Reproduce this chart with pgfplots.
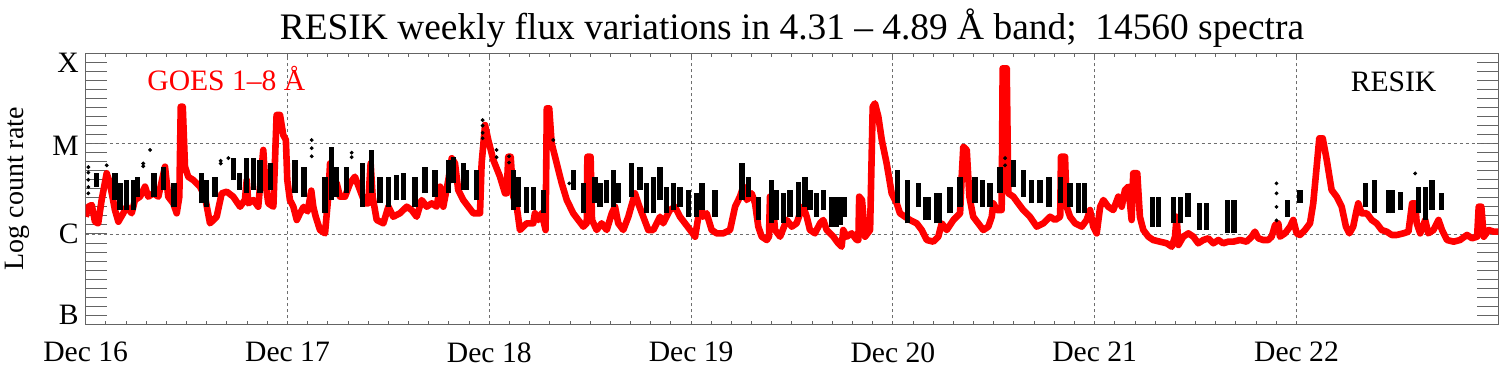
\documentclass[border=0pt]{standalone}
\usepackage{fontspec}
\setmainfont{Liberation Serif}
\usepackage{pgfplots}
\usepackage{pgfplotstable}
\pgfplotsset{compat=1.18}
\definecolor{tickgray}{RGB}{100,100,100}
\definecolor{gridgray}{RGB}{110,110,110}

\pgfplotstableread{
x y
0.000 1.191
0.013 1.302
0.030 1.321
0.046 1.136
0.062 1.118
0.079 1.376
0.104 1.672
0.120 1.561
0.145 1.265
0.162 1.136
0.186 1.229
0.203 1.302
0.228 1.229
0.244 1.376
0.269 1.413
0.294 1.524
0.310 1.413
0.335 1.450
0.360 1.413
0.393 1.745
0.409 1.413
0.434 1.339
0.451 1.229
0.464 1.413
0.471 2.409
0.481 2.409
0.492 1.745
0.508 1.634
0.533 1.597
0.566 1.524
0.591 1.413
0.616 1.118
0.649 1.191
0.674 1.450
0.699 1.468
0.731 1.413
0.765 1.302
0.789 1.376
0.798 1.597
0.806 1.339
0.831 1.376
0.855 1.302
0.880 1.930
0.889 1.597
0.905 1.339
0.930 1.302
0.946 2.317
0.963 2.317
0.979 2.096
0.992 2.040
0.999 1.597
1.012 1.376
1.029 1.302
1.046 1.155
1.062 1.229
1.080 1.300
1.100 1.250
1.118 1.480
1.128 1.300
1.140 1.191
1.161 1.044
1.186 1.007
1.202 1.413
1.211 1.782
1.227 1.487
1.244 1.561
1.260 1.413
1.285 1.413
1.310 1.561
1.334 1.634
1.359 1.487
1.384 1.339
1.400 1.339
1.412 1.782
1.422 1.413
1.442 1.155
1.475 1.118
1.500 1.302
1.524 1.191
1.557 1.229
1.591 1.302
1.615 1.265
1.640 1.191
1.665 1.376
1.690 1.302
1.715 1.339
1.739 1.302
1.756 1.524
1.772 1.302
1.797 1.597
1.814 1.838
1.830 1.782
1.846 1.487
1.871 1.376
1.896 1.302
1.921 1.229
1.954 1.229
1.962 1.782
1.979 2.206
1.995 2.040
2.020 1.819
2.053 1.634
2.078 1.450
2.086 1.450
2.094 1.855
2.106 1.855
2.119 1.413
2.136 1.302
2.152 1.044
2.185 1.118
2.218 1.118
2.226 1.229
2.243 1.155
2.260 1.229
2.279 1.044
2.285 2.391
2.297 2.391
2.309 2.004
2.334 1.782
2.359 1.561
2.384 1.376
2.416 1.229
2.441 1.155
2.466 1.081
2.483 1.118
2.486 1.855
2.502 1.855
2.509 1.155
2.532 1.044
2.557 1.118
2.582 1.044
2.607 1.229
2.623 1.302
2.639 1.118
2.664 1.044
2.689 1.191
2.722 1.450
2.738 1.339
2.763 1.191
2.788 1.044
2.813 1.044
2.846 1.191
2.862 1.118
2.895 1.265
2.920 1.302
2.945 1.191
2.970 1.118
2.995 1.044
3.020 0.970
3.036 1.191
3.044 1.350
3.060 1.191
3.077 1.229
3.102 1.044
3.127 1.007
3.160 1.007
3.193 1.044
3.218 1.302
3.242 1.413
3.259 1.524
3.276 1.376
3.300 1.450
3.317 1.339
3.333 1.081
3.350 0.970
3.375 0.933
3.386 0.970
3.391 1.413
3.404 1.376
3.416 1.044
3.441 0.970
3.474 1.155
3.499 1.081
3.523 1.118
3.540 1.229
3.556 1.302
3.573 1.191
3.589 1.044
3.614 1.007
3.639 1.118
3.655 1.155
3.672 1.044
3.705 0.970
3.729 0.897
3.746 0.859
3.754 1.044
3.771 0.970
3.796 1.007
3.821 0.933
3.829 0.933
3.833 1.413
3.847 1.376
3.862 0.970
3.887 1.044
3.900 2.409
3.911 2.446
3.928 2.298
3.945 2.040
3.969 1.782
3.994 1.450
4.019 1.339
4.035 1.229
4.060 1.191
4.085 1.155
4.118 1.118
4.143 1.044
4.168 0.933
4.200 0.915
4.225 0.970
4.242 1.118
4.267 1.044
4.300 1.155
4.333 1.229
4.341 1.634
4.349 1.966
4.366 1.930
4.379 1.413
4.398 1.191
4.423 1.118
4.448 1.044
4.473 1.081
4.490 1.191
4.498 1.339
4.515 1.265
4.539 1.265
4.544 2.834
4.564 2.834
4.572 1.450
4.597 1.413
4.621 1.339
4.646 1.265
4.679 1.191
4.713 1.081
4.746 1.118
4.779 1.191
4.804 1.155
4.829 1.191
4.833 1.855
4.853 1.855
4.861 1.302
4.878 1.191
4.903 1.118
4.936 1.081
4.960 1.155
4.977 1.265
4.993 1.081
5.010 1.007
5.027 1.300
5.043 1.376
5.067 1.302
5.092 1.265
5.117 1.413
5.134 1.302
5.150 1.487
5.167 1.524
5.183 1.155
5.191 1.672
5.211 1.672
5.224 1.191
5.241 1.044
5.266 0.970
5.290 0.933
5.323 0.915
5.357 0.897
5.382 0.859
5.398 0.970
5.406 1.191
5.415 0.878
5.439 0.970
5.464 1.007
5.489 0.970
5.513 0.897
5.538 0.933
5.563 0.952
5.588 0.897
5.613 0.933
5.637 0.897
5.662 0.915
5.687 0.915
5.720 0.933
5.753 0.915
5.778 0.970
5.794 1.026
5.811 0.952
5.835 0.933
5.860 0.933
5.877 0.970
5.894 1.100
5.910 1.118
5.918 0.970
5.943 1.007
5.968 1.081
5.984 1.155
6.001 1.007
6.017 0.989
6.042 1.044
6.067 1.118
6.083 1.339
6.100 1.745
6.113 2.059
6.130 2.059
6.150 1.819
6.174 1.487
6.199 1.413
6.224 1.302
6.245 1.081
6.262 1.007
6.281 1.081
6.298 1.265
6.306 1.339
6.323 1.229
6.348 1.229
6.373 1.155
6.397 1.118
6.422 1.044
6.447 1.026
6.472 0.989
6.497 0.989
6.530 1.007
6.555 1.026
6.573 1.339
6.588 1.339
6.596 1.118
6.613 1.007
6.638 1.155
6.653 1.007
6.679 1.044
6.704 1.155
6.721 1.044
6.746 0.933
6.779 0.915
6.810 0.933
6.845 0.989
6.870 0.952
6.895 0.970
6.903 1.302
6.916 1.302
6.928 0.970
6.953 1.044
6.977 1.026
7.000 1.026
}\goes

% RESIK orbit bands: x, low, high
\pgfplotstableread{
x lo hi
0.054 1.524 1.671
0.145 1.376 1.671
0.170 1.265 1.560
0.203 1.265 1.597
0.236 1.265 1.597
0.256 1.413 1.634
0.338 1.413 1.671
0.385 1.487 1.745
0.438 1.302 1.560
0.575 1.339 1.671
0.600 1.302 1.597
0.641 1.413 1.634
0.731 1.597 1.837
0.761 1.487 1.671
0.798 1.450 1.837
0.831 1.487 1.837
0.864 1.450 1.819
0.917 1.487 1.782
1.037 1.450 1.819
1.082 1.413 1.745
1.186 1.228 1.634
1.219 1.376 1.966
1.244 1.413 1.745
1.293 1.450 1.745
1.371 1.302 1.782
1.417 1.450 1.930
1.458 1.339 1.634
1.500 1.302 1.634
1.542 1.376 1.650
1.574 1.376 1.671
1.632 1.302 1.634
1.681 1.450 1.745
1.731 1.413 1.708
1.797 1.450 1.819
1.822 1.560 1.856
1.871 1.487 1.782
1.888 1.487 1.708
1.938 1.376 1.708
2.119 1.265 1.708
2.144 1.302 1.634
2.185 1.228 1.524
2.218 1.265 1.524
2.268 1.228 1.487
2.416 1.487 1.708
2.466 1.228 1.560
2.524 1.339 1.634
2.549 1.302 1.560
2.582 1.339 1.597
2.615 1.302 1.708
2.640 1.339 1.560
2.706 1.413 1.782
2.747 1.487 1.745
2.780 1.228 1.560
2.813 1.228 1.634
2.846 1.376 1.745
2.879 1.228 1.524
2.912 1.265 1.560
2.945 1.302 1.524
2.986 1.191 1.487
3.028 1.191 1.450
3.054 1.265 1.560
3.118 1.191 1.487
3.252 1.376 1.782
3.283 1.413 1.634
3.333 1.150 1.413
3.399 1.118 1.597
3.424 1.150 1.487
3.457 1.118 1.450
3.490 1.191 1.487
3.531 1.191 1.580
3.564 1.302 1.634
3.589 1.265 1.487
3.622 1.191 1.450
3.655 1.265 1.487
3.697 1.080 1.413
3.722 1.080 1.413
3.740 1.100 1.413
3.758 1.191 1.413
4.021 1.339 1.708
4.073 1.118 1.597
4.126 1.302 1.560
4.160 1.155 1.413
4.176 1.155 1.413
4.215 1.118 1.450
4.230 1.118 1.450
4.283 1.228 1.524
4.333 1.302 1.634
4.407 1.339 1.634
4.444 1.302 1.597
4.481 1.302 1.560
4.531 1.450 1.745
4.599 1.524 1.819
4.649 1.413 1.708
4.688 1.339 1.597
4.729 1.339 1.597
4.774 1.302 1.634
4.829 1.339 1.634
4.878 1.302 1.560
4.920 1.228 1.560
4.950 1.228 1.560
5.285 1.080 1.413
5.315 1.080 1.413
5.390 1.118 1.413
5.425 1.118 1.413
5.462 1.191 1.450
5.520 1.044 1.339
5.556 1.044 1.339
5.660 1.007 1.376
5.690 1.007 1.376
5.957 1.191 1.376
6.017 1.339 1.487
6.343 1.302 1.560
6.387 1.228 1.597
6.455 1.228 1.487
6.475 1.228 1.487
6.517 1.265 1.470
6.605 1.228 1.524
6.638 1.150 1.524
6.672 1.265 1.597
6.718 1.265 1.450
}\resik

% isolated RESIK points
\pgfplotstableread{
x y
0.013 1.45
0.013 1.52
0.013 1.60
0.013 1.68
0.013 1.74
0.104 1.76
0.285 1.75
0.285 1.78
0.319 1.93
0.669 1.78
0.669 1.81
0.707 1.84
1.120 2.04
1.120 1.95
1.120 1.86
1.318 1.90
1.318 1.85
1.967 2.26
1.967 2.20
1.967 2.12
1.967 2.06
2.036 1.93
2.036 1.85
2.098 1.86
2.098 1.79
2.317 2.04
2.396 1.56
4.556 1.84
4.556 1.76
5.901 1.56
5.901 1.45
5.901 1.30
5.901 1.15
6.588 1.67
}\resikdots

\begin{document}
\begin{tikzpicture}
\useasboundingbox (-42.85pt,-26.35pt) rectangle (713.15pt,162.15pt);
% long y ticks
\begin{axis}[
  at={(0,0)}, anchor=south west, scale only axis,
  width=706.3pt, height=135.5pt,
  xmin=0, xmax=7, ymin=0, ymax=3,
  hide x axis,
  ytick={0,1,2,3}, yticklabels={},
  minor y tick num=9,
  major tick length=10.5pt, minor tick length=10.5pt,
  tick pos=both,
  tick style={tickgray, line width=0.5pt},
  axis line style={tickgray, line width=0.6pt},
]
\end{axis}
\begin{axis}[
  at={(0,0)}, anchor=south west, scale only axis,
  width=706.3pt, height=135.5pt,
  xmin=0, xmax=7, ymin=0, ymax=3,
  xtick={0,1,2,3,4,5,6},
  xticklabels={Dec 16,Dec 17,Dec 18,Dec 19,Dec 20,Dec 21,Dec 22},
  ytick={0,1,2,3},
  yticklabels={\raisebox{-0.2pt}[0pt][0pt]{B},\raisebox{-4.85pt}[0pt][0pt]{C},\raisebox{-5.7pt}[0pt][0pt]{M},\raisebox{-9.45pt}[0pt][0pt]{X}},
  minor x tick num=9,
  major tick length=1.6pt, minor tick length=1.6pt,
  tick pos=both,
  tick style={tickgray, line width=0.5pt},
  axis line style={tickgray, line width=0.6pt},
  grid=major,
  grid style={gridgray, dash pattern=on 1.5pt off 1.5pt, line width=0.4pt},
  xticklabel style={font=\fontsize{14.8}{16}\selectfont, yshift=-5.5pt},
  yticklabel style={font=\fontsize{14.8}{16}\selectfont},
  title={RESIK weekly flux variations in 4.31 – 4.89 Å band;\ \ 14560 spectra},
  title style={font=\fontsize{18.7}{21}\selectfont, yshift=-6.5pt},
  ylabel={Log count rate},
  ylabel style={at={(axis description cs:-0.0483,0.5)}, anchor=center, font=\fontsize{14}{16}\selectfont},
  clip=true,
]
\addplot[red, line width=3.3pt, line join=round] table[x=x, y=y] {\goes};
\addplot[draw=none, mark=none, forget plot,
  error bars/.cd, y dir=plus, y explicit, error mark=none,
  error bar style={draw=black, line width=2.6pt}]
  table[x=x, y=lo, y error plus expr=\thisrow{hi}-\thisrow{lo}] {\resik};
\addplot[only marks, mark=*, mark size=0.75pt, black] table[x=x, y=y] {\resikdots};
\node[anchor=base west, inner sep=0pt, text=red, font=\fontsize{14.8}{16}\selectfont]
  at (axis description cs:0.0434,0.8646) {GOES 1–8 Å};
\node[anchor=base east, inner sep=0pt, text=black, font=\fontsize{14.8}{16}\selectfont]
  at (axis description cs:0.9564,0.8590) {RESIK};
\end{axis}
\end{tikzpicture}
\end{document}
